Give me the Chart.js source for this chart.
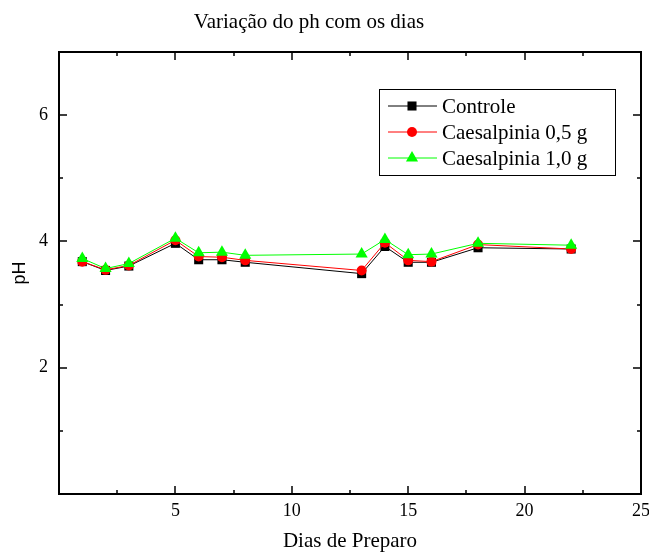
<!DOCTYPE html>
<html>
<head>
<meta charset="utf-8">
<script src="https://cdn.jsdelivr.net/npm/chart.js@4.4.0/dist/chart.umd.min.js"></script>
<style>
  body { margin: 0; background: #fff; }
  #wrap { width: 649px; height: 554px; position: relative; }
</style>
</head>
<body>
<div id="wrap"><canvas id="phChart"></canvas></div>
<script>
// values
const dias = [1, 2, 3, 5, 6, 7, 8, 13, 14, 15, 16, 18, 22];
const controle = [3.68, 3.54, 3.61, 3.97, 3.71, 3.71, 3.67, 3.49, 3.92, 3.67, 3.67, 3.90, 3.88];
const caes05 = [3.68, 3.55, 3.62, 4.02, 3.76, 3.75, 3.70, 3.54, 3.98, 3.70, 3.68, 3.95, 3.88];
const caes10 = [3.73, 3.57, 3.65, 4.05, 3.82, 3.83, 3.78, 3.80, 4.03, 3.79, 3.80, 3.97, 3.94];
const seriesNames = ['Controle', 'Caesalpinia 0,5 g', 'Caesalpinia 1,0 g'];

const chartTitle = 'Variação do ph com os dias';
const xTitle = 'Dias de Preparo';
const yTitle = 'pH';

const serif = '"Liberation Serif", "Times New Roman", serif';

const toPoints = (ys) => dias.map((d, i) => ({ x: d, y: ys[i] }));

function drawMarker(ctx, style, color, r, x, y) {
  ctx.fillStyle = color;
  ctx.beginPath();
  if (style === 'rect') {
    const s = Math.SQRT1_2 * r;
    ctx.rect(x - s, y - s, 2 * s, 2 * s);
  } else if (style === 'triangle') {
    ctx.moveTo(x, y - r);
    ctx.lineTo(x + r * Math.sin(2 * Math.PI / 3), y + r / 2);
    ctx.lineTo(x - r * Math.sin(2 * Math.PI / 3), y + r / 2);
    ctx.closePath();
  } else {
    ctx.arc(x, y, r, 0, Math.PI * 2);
  }
  ctx.fill();
}

// frame, inward ticks, titles and boxed legend
const decorations = {
  id: 'decorations',
  afterDraw(chart) {
    const ctx = chart.ctx;
    const a = chart.chartArea;
    const xs = chart.scales.x, ys = chart.scales.y;
    ctx.save();

    ctx.strokeStyle = '#000';
    ctx.lineWidth = 2;
    ctx.strokeRect(a.left, a.top, a.right - a.left, a.bottom - a.top);

    ctx.lineWidth = 1.5;
    ctx.beginPath();
    xs.ticks.forEach(t => {
      if (t.value <= xs.min || t.value >= xs.max) return;
      const px = Math.round(xs.getPixelForValue(t.value));
      const len = t.value % 5 === 0 ? 8 : 4;
      ctx.moveTo(px, a.bottom); ctx.lineTo(px, a.bottom - len);
      ctx.moveTo(px, a.top); ctx.lineTo(px, a.top + len);
    });
    ys.ticks.forEach(t => {
      if (t.value <= ys.min || t.value >= ys.max) return;
      const py = Math.round(ys.getPixelForValue(t.value));
      const len = t.value % 2 === 0 ? 8 : 4;
      ctx.moveTo(a.left, py); ctx.lineTo(a.left + len, py);
      ctx.moveTo(a.right, py); ctx.lineTo(a.right - len, py);
    });
    ctx.stroke();

    ctx.fillStyle = '#000';
    ctx.textBaseline = 'middle';
    ctx.textAlign = 'center';
    ctx.font = '21px ' + serif;
    ctx.fillText(chartTitle, 309, 22);
    ctx.fillText(xTitle, (a.left + a.right) / 2, 541);

    ctx.save();
    ctx.translate(20, (a.top + a.bottom) / 2);
    ctx.rotate(-Math.PI / 2);
    ctx.font = '18px "Liberation Sans", Arial, sans-serif';
    ctx.fillText(yTitle, 0, 0);
    ctx.restore();

    // legend
    ctx.lineWidth = 1;
    ctx.strokeStyle = '#000';
    ctx.strokeRect(379.5, 89.5, 236, 86);
    chart.data.datasets.forEach((ds, i) => {
      const y = 106 + i * 26;
      ctx.strokeStyle = ds.borderColor;
      ctx.lineWidth = 1;
      ctx.beginPath();
      ctx.moveTo(388, y); ctx.lineTo(437, y);
      ctx.stroke();
      drawMarker(ctx, ds.pointStyle, ds.borderColor, ds.pointRadius, 412, y);
      ctx.fillStyle = '#000';
      ctx.textAlign = 'left';
      ctx.font = '21px ' + serif;
      ctx.fillText(ds.label, 442, y + 1);
    });

    ctx.restore();
  }
};

new Chart(document.getElementById('phChart'), {
  type: 'scatter',
  data: {
    datasets: [
      { label: seriesNames[0], data: toPoints(controle), borderColor: '#000000', backgroundColor: '#000000',
        pointStyle: 'rect', pointRadius: 6.4, order: 2 },
      { label: seriesNames[1], data: toPoints(caes05), borderColor: '#ff0000', backgroundColor: '#ff0000',
        pointStyle: 'circle', pointRadius: 5, order: 1 },
      { label: seriesNames[2], data: toPoints(caes10), borderColor: '#00ff00', backgroundColor: '#00ff00',
        pointStyle: 'triangle', pointRadius: 7, order: 0 }
    ].map(ds => Object.assign(ds, { showLine: true, borderWidth: 1, pointBorderWidth: 0, pointHoverRadius: ds.pointRadius }))
  },
  options: {
    responsive: true,
    maintainAspectRatio: false,
    animation: false,
    layout: { padding: { top: 52, right: 8, left: 0, bottom: 0 } },
    plugins: { legend: { display: false }, title: { display: false }, tooltip: { enabled: false } },
    scales: {
      x: {
        type: 'linear', min: 0, max: 25,
        grid: { display: false, drawTicks: false },
        border: { display: false },
        ticks: {
          stepSize: 2.5, padding: 6, color: '#000', font: { family: serif, size: 18 },
          autoSkip: false, maxRotation: 0,
          callback: v => (v > 0 && v % 5 === 0) ? String(v) : ''
        },
        afterFit: s => { s.height = 60; s.paddingLeft = 0; s.paddingRight = 0; }
      },
      y: {
        min: 0, max: 7,
        grid: { display: false, drawTicks: false },
        border: { display: false },
        ticks: {
          stepSize: 1, padding: 11, color: '#000', font: { family: serif, size: 18 },
          autoSkip: false,
          callback: v => (v > 0 && v % 2 === 0) ? String(v) : ''
        },
        afterFit: s => { s.width = 59; s.paddingTop = 0; s.paddingBottom = 0; }
      }
    }
  },
  plugins: [decorations]
});
</script>
</body>
</html>
